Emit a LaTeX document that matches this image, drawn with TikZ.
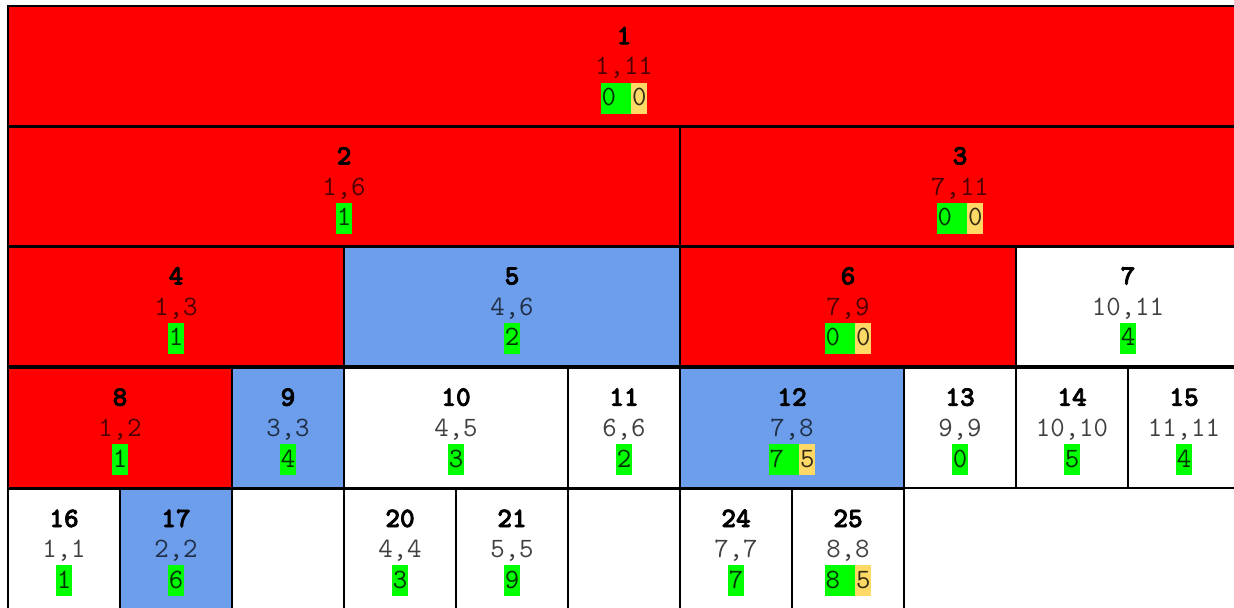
\documentclass[tikz,border=0pt]{standalone}
\usepackage{fontspec}
\newfontfamily\idxfont{lmmonolt10-bold}[Extension=.otf, FakeBold=2.6]
\definecolor{segred}{HTML}{FF0000}
\definecolor{segblue}{HTML}{6D9EEB}
\definecolor{seggreen}{HTML}{00FF00}
\definecolor{segyellow}{HTML}{FFD966}
\newcommand\hlstrut{\rule[-6pt]{0pt}{23.25pt}}
\newcommand\idx[1]{\rule{0pt}{19pt}{\idxfont #1}}
\newcommand\cg[1]{{\fboxsep=0pt\colorbox{seggreen}{\hlstrut\kern.6pt\textcolor{black!80!seggreen}{#1}\kern.6pt}}}
\newcommand\cy[1]{{\fboxsep=0pt\colorbox{segyellow}{\hlstrut\kern.6pt\textcolor{black!80!segyellow}{#1}\kern.6pt}}}
\tikzset{
  seg/.style={draw=black, line width=1.75pt, inner sep=0pt, align=center,
    minimum height=90pt, font=\ttfamily\fontsize{21}{23}\selectfont},
  leaves/.style={minimum width=#1*84pt},
  hot/.style={seg, fill=segred, execute at begin node=\colorlet{rngc}{black!70!segred}},
  cool/.style={seg, fill=segblue, execute at begin node=\colorlet{rngc}{black!70!segblue}},
  plain/.style={seg, fill=white, execute at begin node=\colorlet{rngc}{black!75!white}},
}
\begin{document}
\begin{tikzpicture}[x=0.75pt, y=-0.75pt]
  \useasboundingbox (0,0) rectangle (1234,607);
  \fill[white] (0,0) rectangle (1234,607);
  \clip (0,0) rectangle (1234,607);
  % root
  \node[hot, leaves=11] (n1) at (624,66.25) {\idx{1}\\\textcolor{rngc}{1,11}\\\cg{0\ }\cy{0}};
  % second row
  \node[hot, leaves=6] (n2) at (344,186.5) {\idx{2}\\\textcolor{rngc}{1,6}\\\cg{1}};
  \node[hot, leaves=5] (n3) at (960,186.5) {\idx{3}\\\textcolor{rngc}{7,11}\\\cg{0\ }\cy{0}};
  % third row
  \node[hot, leaves=3] (n4) at (176,306.5) {\idx{4}\\\textcolor{rngc}{1,3}\\\cg{1}};
  \node[cool, leaves=3] (n5) at (512,306.5) {\idx{5}\\\textcolor{rngc}{4,6}\\\cg{2}};
  \node[hot, leaves=3] (n6) at (848,306.5) {\idx{6}\\\textcolor{rngc}{7,9}\\\cg{0\ }\cy{0}};
  \node[plain, leaves=2] (n7) at (1128,306.5) {\idx{7}\\\textcolor{rngc}{10,11}\\\cg{4}};
  % fourth row
  \begin{scope}[every node/.append style={minimum height=92pt}]
    \node[hot, leaves=2] (n8) at (120,427.75) {\idx{8}\\\textcolor{rngc}{1,2}\\\cg{1}};
    \node[cool, leaves=1] (n9) at (288,427.75) {\idx{9}\\\textcolor{rngc}{3,3}\\\cg{4}};
    \node[plain, leaves=2] (n10) at (456,427.75) {\idx{10}\\\textcolor{rngc}{4,5}\\\cg{3}};
    \node[plain, leaves=1] (n11) at (624,427.75) {\idx{11}\\\textcolor{rngc}{6,6}\\\cg{2}};
    \node[cool, leaves=2] (n12) at (792,427.75) {\idx{12}\\\textcolor{rngc}{7,8}\\\cg{7\ }\cy{5}};
    \node[plain, leaves=1] (n13) at (960,427.75) {\idx{13}\\\textcolor{rngc}{9,9}\\\cg{0}};
    \node[plain, leaves=1] (n14) at (1072,427.75) {\idx{14}\\\textcolor{rngc}{10,10}\\\cg{5}};
    \node[plain, leaves=1] (n15) at (1184,427.75) {\idx{15}\\\textcolor{rngc}{11,11}\\\cg{4}};
  \end{scope}
  % leaves
  \node[plain, leaves=1] (n16) at (64,549) {\idx{16}\\\textcolor{rngc}{1,1}\\\cg{1}};
  \node[cool, leaves=1] (n17) at (176,549) {\idx{17}\\\textcolor{rngc}{2,2}\\\cg{6}};
  \node[plain, leaves=1] (gap1) at (288,549) {};
  \node[plain, leaves=1] (n20) at (400,549) {\idx{20}\\\textcolor{rngc}{4,4}\\\cg{3}};
  \node[plain, leaves=1] (n21) at (512,549) {\idx{21}\\\textcolor{rngc}{5,5}\\\cg{9}};
  \node[plain, leaves=1] (gap2) at (624,549) {};
  \node[plain, leaves=1] (n24) at (736,549) {\idx{24}\\\textcolor{rngc}{7,7}\\\cg{7}};
  \node[plain, leaves=1] (n25) at (848,549) {\idx{25}\\\textcolor{rngc}{8,8}\\\cg{8\ }\cy{5}};
\end{tikzpicture}
\end{document}
